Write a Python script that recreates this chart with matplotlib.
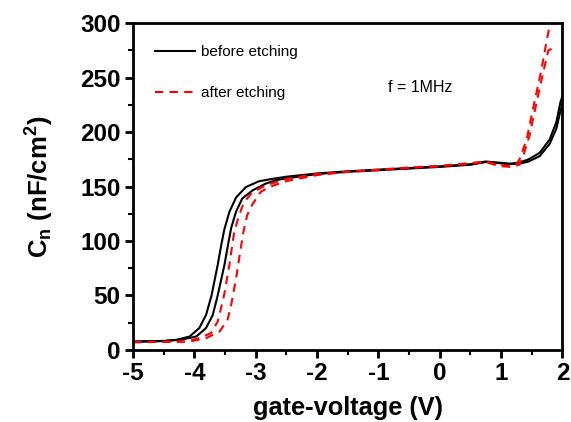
import matplotlib
matplotlib.use("Agg")
import matplotlib.pyplot as plt
from matplotlib.ticker import MultipleLocator

plt.rcParams["font.family"] = ["Liberation Sans", "DejaVu Sans"]
plt.rcParams["mathtext.fontset"] = "custom"
plt.rcParams["mathtext.rm"] = "Liberation Sans:bold"
plt.rcParams["mathtext.it"] = "Liberation Sans:bold"
plt.rcParams["mathtext.bf"] = "Liberation Sans:bold"
plt.rcParams["mathtext.default"] = "rm"
plt.rcParams["axes.unicode_minus"] = False

# C-V curves, two sweep branches per sample
before_a_v = [-5, -4.5, -4.29, -4.08, -3.92, -3.81, -3.72, -3.62, -3.56, -3.51, -3.43, -3.32,
              -3.16, -2.95, -2.73, -2.5, -2, -1.5, -1, -0.5, 0, 0.5, 0.75, 0.95, 1.15,
              1.3, 1.45, 1.63, 1.79, 1.9, 1.97, 2.0]
before_a_c = [7.5, 8.2, 9.2, 12.2, 20, 32, 50, 78, 97, 111, 126.6, 140,
              149.5, 154.8, 157, 159, 162, 164, 165.5, 167, 168.5, 170.5, 173, 172, 171,
              172, 175, 181, 193, 209, 228, 233]

before_b_v = [-5, -4.5, -4.2, -3.97, -3.81, -3.70, -3.62, -3.51, -3.45, -3.40, -3.32, -3.22,
              -3.05, -2.84, -2.68, -2.5, -2, -1.5, -1, -0.5, 0, 0.5, 0.75, 0.95, 1.15,
              1.3, 1.45, 1.63, 1.79, 1.9, 1.97, 2.0]
before_b_c = [7.5, 8.0, 9.5, 12.2, 20, 32, 50, 78, 97, 112, 127, 139,
              146.5, 152.6, 155.7, 157.5, 161.5, 163.5, 165, 166.5, 168, 170, 172.5, 171.5, 170.5,
              171, 173, 178, 189, 203, 220, 226]

after_a_v = [-5, -4.5, -4.13, -3.92, -3.73, -3.62, -3.54, -3.51, -3.43, -3.35, -3.27, -3.19,
             -3.05, -2.84, -2.5, -2, -1.5, -1, -0.5, 0, 0.5, 0.75, 0.95, 1.1, 1.25, 1.31,
             1.42, 1.50, 1.58, 1.66, 1.74, 1.81]
after_a_c = [7, 7.3, 7.6, 10.7, 15.3, 26, 44, 52, 78, 108.5, 123.6, 135.8,
             145, 151, 157, 161.5, 163.5, 165.5, 167.5, 169, 171.5, 173, 170, 169, 170.5, 176,
             194, 216, 237, 258, 283, 303]

after_b_v = [-5, -4.5, -4.08, -3.81, -3.59, -3.46, -3.40, -3.36, -3.32, -3.27, -3.20, -3.14,
             -3.05, -2.92, -2.78, -2.5, -2, -1.5, -1, -0.5, 0, 0.5, 0.75, 0.95, 1.15, 1.3,
             1.36, 1.46, 1.54, 1.62, 1.70, 1.77, 1.88]
after_b_c = [7, 7.3, 7.6, 10.7, 16.8, 27.5, 41.3, 53.5, 65.8, 84, 108.5, 123.6,
             134, 145, 149.5, 155, 160.5, 163.5, 165, 167, 168.5, 171, 172.5, 169, 168, 170,
             178, 196, 217, 238, 258, 275, 278]

fig = plt.figure(figsize=(5.71, 4.22), dpi=100)
ax = fig.add_axes([0.233, 0.171, 0.752, 0.774])

ax.plot(before_a_v, before_a_c, color="black", lw=1.5, label="before etching")
ax.plot(before_b_v, before_b_c, color="black", lw=1.5)
ax.plot(after_a_v, after_a_c, color="red", lw=1.5, ls=(0, (4, 3)), label="after etching")
ax.plot(after_b_v, after_b_c, color="red", lw=1.5, ls=(0, (4, 3)))

ax.set_xlim(-5, 2)
ax.set_ylim(0, 300)
ax.xaxis.set_major_locator(MultipleLocator(1))
ax.xaxis.set_minor_locator(MultipleLocator(0.5))
ax.yaxis.set_major_locator(MultipleLocator(50))
ax.yaxis.set_minor_locator(MultipleLocator(25))

for s in ax.spines.values():
    s.set_linewidth(2)
ax.tick_params(which="major", direction="out", length=6, width=2, labelsize=17.5, pad=3)
ax.tick_params(which="minor", direction="out", length=3.5, width=1.5)
for lab in ax.get_xticklabels() + ax.get_yticklabels():
    lab.set_fontweight("bold")

ax.set_xlabel("gate-voltage (V)", fontsize=18.3, fontweight="bold", labelpad=8)
ax.set_ylabel("C$_{n}$ (nF/cm$^{2}$)", fontsize=18.5, fontweight="bold", labelpad=17)

ax.text(-0.85, 241, "f = 1MHz", fontsize=11.5, va="center")
ax.legend(loc="upper left", bbox_to_anchor=(0.02, 0.975), frameon=False, fontsize=11,
          handlelength=2.6, handletextpad=0.4, labelspacing=1.75)

fig.savefig("out.png", dpi=100)
